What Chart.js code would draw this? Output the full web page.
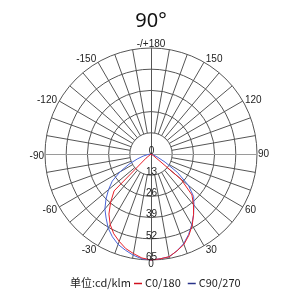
<!DOCTYPE html>
<html><head><meta charset="utf-8">
<script src="https://cdn.jsdelivr.net/npm/chart.js@4/dist/chart.umd.min.js"></script>
<style>html,body{margin:0;padding:0;background:#fff}#wrap{width:300px;height:300px;position:relative}</style>
</head><body><div id="wrap"><canvas id="c" width="300" height="300"></canvas></div>
<script>
const titleText = '90°';
const unitText = '单位:cd/klm';
const seriesNames = ['C0/180', 'C90/270'];
const curveColors = ['#e8202a', '#4a64d8'];
const markerColors = ['#d0101e', '#28338a'];
// intensity (cd/klm) at gamma = 0,5,10,...,90 degrees from nadir
const gammaSteps = [0,5,10,15,20,25,30,35,40,45,50,55,60,65,70,75,80,85,90];
const c0Right  = [65,64.5,64,61.5,59,55,50.5,45.5,40.5,35.5,24,2,0,0,0,0,0,0,0];
const c0Left   = [65,64,62,60,57,54,50,45,38.5,32,4,0,0,0,0,0,0,0,0];
const c90Right = [65,64.5,64,61.5,58.5,54.5,50,45.5,41,37,30,20,10,4,1,0,0,0,0];
const c90Left  = [65,64.5,63,61,59,56,52.5,48,44,39,34,29,22,15,9,5,2,0.5,0];
// category angles, clockwise from the top of the diagram
const angleLabels = [180,175,170,165,160,155,150,145,140,135,130,125,120,115,110,105,100,95,
  90,85,80,75,70,65,60,55,50,45,40,35,30,25,20,15,10,5,
  0,-5,-10,-15,-20,-25,-30,-35,-40,-45,-50,-55,-60,-65,-70,-75,-80,-85,
  -90,-95,-100,-105,-110,-115,-120,-125,-130,-135,-140,-145,-150,-155,-160,-165,-170,-175];
const tickValues = [0,13,26,39,52,65];
const axisLabelAngles = [180,150,120,90,60,30,0,-30,-60,-90,-120,-150];

function buildSeries(right, left){
  return angleLabels.map(a => {
    if (Math.abs(a) > 90) return 0;
    const k = gammaSteps.indexOf(Math.abs(a));
    return a >= 0 ? right[k] : left[k];
  });
}

const decor = {
  id: 'decor',
  beforeDatasetsDraw(chart){
    const s = chart.scales.r, ctx = chart.ctx;
    const r0 = s.getDistanceFromCenterForValue(tickValues[1]);
    const r1 = s.drawingArea;
    ctx.save();
    ctx.lineWidth = 1;
    angleLabels.forEach((a, i) => {
      if (a % 10 !== 0) return;
      const through = (a % 90 === 0);
      const p0 = s.getPointPosition(i, through ? 0 : r0);
      const p1 = s.getPointPosition(i, r1);
      ctx.strokeStyle = Math.abs(a) === 90 ? '#9a9a9a' : '#555';
      let x0 = p0.x, y0 = p0.y, x1 = p1.x, y1 = p1.y;
      if (Math.abs(x0 - x1) < 0.01) { x0 += 0.5; x1 += 0.5; }
      if (Math.abs(y0 - y1) < 0.01) { y0 += 0.5; y1 += 0.5; }
      ctx.beginPath(); ctx.moveTo(x0, y0); ctx.lineTo(x1, y1); ctx.stroke();
    });
    ctx.restore();
  },
  afterDatasetsDraw(chart){
    const s = chart.scales.r, ctx = chart.ctx;
    ctx.save();
    ctx.font = '10px "Liberation Sans", Arial, sans-serif';
    ctx.fillStyle = '#222';
    ctx.textAlign = 'center';
    ctx.textBaseline = 'middle';
    tickValues.forEach(v => {
      const d = s.getDistanceFromCenterForValue(v);
      ctx.fillText(String(v), s.xCenter + 0.5, s.yCenter + d - 3);
    });
    // angle labels
    axisLabelAngles.forEach(a => {
      const i = angleLabels.indexOf(a);
      const th = (180 - a) * Math.PI / 180;
      const sn = Math.sin(th), cs = Math.cos(th);
      const r = s.drawingArea + 1 + 3 * Math.abs(cs);
      const p = s.getPointPosition(i, r);
      ctx.textAlign = sn > 0.05 ? 'left' : (sn < -0.05 ? 'right' : 'center');
      const dy = cs < 0 ? 2.5 * Math.abs(sn) : 0;
      ctx.fillText(a === 180 ? '-/+180' : String(a), p.x, p.y + dy);
    });
    // title
    ctx.textAlign = 'center';
    ctx.font = '20px "Noto Sans", sans-serif';
    ctx.fillStyle = '#111';
    ctx.fillText(titleText, 151, 21);
    // legend
    ctx.font = '11px "Noto Sans CJK SC", sans-serif';
    ctx.textAlign = 'left';
    ctx.fillStyle = '#222';
    const ly = 283;
    ctx.fillText(unitText, 70, ly);
    let x = 134;
    seriesNames.forEach((n, k) => {
      ctx.strokeStyle = markerColors[k];
      ctx.lineWidth = 1.5;
      ctx.beginPath(); ctx.moveTo(x, ly + 0.5); ctx.lineTo(x + 8, ly + 0.5); ctx.stroke();
      ctx.fillText(n, x + 11, ly);
      x += 11 + ctx.measureText(n).width + 7;
    });
    ctx.restore();
  }
};

new Chart(document.getElementById('c'), {
  type: 'radar',
  data: {
    labels: angleLabels.map(String),
    datasets: [
      { label: seriesNames[0], data: buildSeries(c0Right, c0Left), borderColor: curveColors[0], borderWidth: 1, pointRadius: 0, fill: false, tension: 0 },
      { label: seriesNames[1], data: buildSeries(c90Right, c90Left), borderColor: curveColors[1], borderWidth: 1, pointRadius: 0, fill: false, tension: 0 }
    ]
  },
  options: {
    responsive: false,
    animation: false,
    layout: { padding: { left: 45, right: 43, top: 48, bottom: 40 } },
    plugins: { legend: { display: false }, title: { display: false }, tooltip: { enabled: false } },
    scales: {
      r: {
        min: 0, max: 65,
        startAngle: 0,
        ticks: { display: false, stepSize: 13 },
        grid: { circular: true, color: '#555', lineWidth: 1 },
        angleLines: { display: false },
        pointLabels: { display: false }
      }
    }
  },
  plugins: [decor]
});
</script>
</body></html>
